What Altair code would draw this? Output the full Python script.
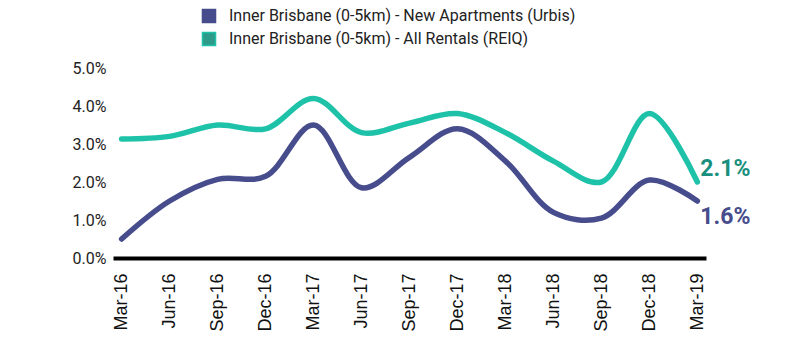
import altair as alt
import pandas as pd

quarters = ["Mar-16", "Jun-16", "Sep-16", "Dec-16", "Mar-17", "Jun-17", "Sep-17",
            "Dec-17", "Mar-18", "Jun-18", "Sep-18", "Dec-18", "Mar-19"]
new_apartments = [0.50, 1.50, 2.07, 2.15, 3.50, 1.85, 2.65, 3.40, 2.55, 1.20, 1.05, 2.05, 1.50]
all_rentals = [3.13, 3.20, 3.50, 3.40, 4.20, 3.30, 3.55, 3.80, 3.30, 2.55, 2.00, 3.80, 2.00]
series_names = ["Inner Brisbane (0-5km) - New Apartments (Urbis)",
                "Inner Brisbane (0-5km) - All Rentals (REIQ)"]
end_labels = ["1.6%", "2.1%"]
colors = ["#474c8c", "#1ec2a8"]
legend_colors = ["#474c8c", "#2e9a8a"]
label_colors = ["#474c8c", "#1a8f7d"]
y_ticks = [0, 0.01, 0.02, 0.03, 0.04, 0.05]

rows = []
for q, a, r in zip(quarters, new_apartments, all_rentals):
    rows.append({"quarter": q, "value": a / 100, "series": series_names[0]})
    rows.append({"quarter": q, "value": r / 100, "series": series_names[1]})
df = pd.DataFrame(rows)

x_enc = alt.X("quarter:N", sort=quarters,
              scale=alt.Scale(type="point", padding=0.18),
              axis=alt.Axis(title=None, labelAngle=-90, labelFont="Liberation Sans",
                            labelFontSize=18, labelColor="#111", labelPadding=15,
                            ticks=False, domainColor="#000", domainWidth=4,
                            labelBaseline="middle", labelAlign="right"))
y_enc = alt.Y("value:Q", scale=alt.Scale(domain=[0, 0.05]),
              axis=alt.Axis(title=None, format=".1%", values=y_ticks,
                            grid=False, domain=False, ticks=False, labelFont="Roboto",
                            labelFontSize=16, labelColor="#222", labelPadding=7,
                            labelOverlap=False))

lines = alt.Chart(df).mark_line(interpolate="catmull-rom", strokeWidth=5.5, strokeCap="round").encode(
    x=x_enc, y=y_enc,
    color=alt.Color("series:N", sort=series_names,
                    scale=alt.Scale(domain=series_names, range=colors),
                    legend=None))

legend_layer = alt.Chart(df).mark_point(shape="square", filled=True, opacity=0).encode(
    x=x_enc, y=y_enc,
    fill=alt.Fill("series:N", sort=series_names,
                  scale=alt.Scale(domain=series_names, range=legend_colors),
                  legend=alt.Legend(title=None, orient="none", legendX=88, legendY=-60,
                                    symbolType="square", symbolSize=170, symbolOpacity=1,
                                    labelFont="Roboto", labelFontSize=16, labelColor="#222",
                                    labelOffset=12, rowPadding=3, padding=0, labelLimit=0)))

last_df = pd.DataFrame([
    {"quarter": quarters[-1], "value": new_apartments[-1] / 100, "label": end_labels[0]},
    {"quarter": quarters[-1], "value": all_rentals[-1] / 100, "label": end_labels[1]},
])

lab1 = alt.Chart(last_df.iloc[[0]]).mark_text(
    align="left", baseline="middle", dx=3, dy=16, font="Roboto", fontWeight="bold",
    fontSize=23, color=label_colors[0]).encode(x=x_enc, y=y_enc, text="label:N")
lab2 = alt.Chart(last_df.iloc[[1]]).mark_text(
    align="left", baseline="middle", dx=3, dy=-13, font="Roboto", fontWeight="bold",
    fontSize=23, color=label_colors[1]).encode(x=x_enc, y=y_enc, text="label:N")

chart = alt.layer(legend_layer, lines, lab1, lab2).properties(
    width=593, height=190,
    padding={"left": 113, "top": 68, "right": 89, "bottom": 93},
    autosize=alt.AutoSizeParams(type="none"),
    background="white",
).configure_view(stroke=None)

chart.save("out.html", embed_options={"renderer": "svg", "actions": False})
